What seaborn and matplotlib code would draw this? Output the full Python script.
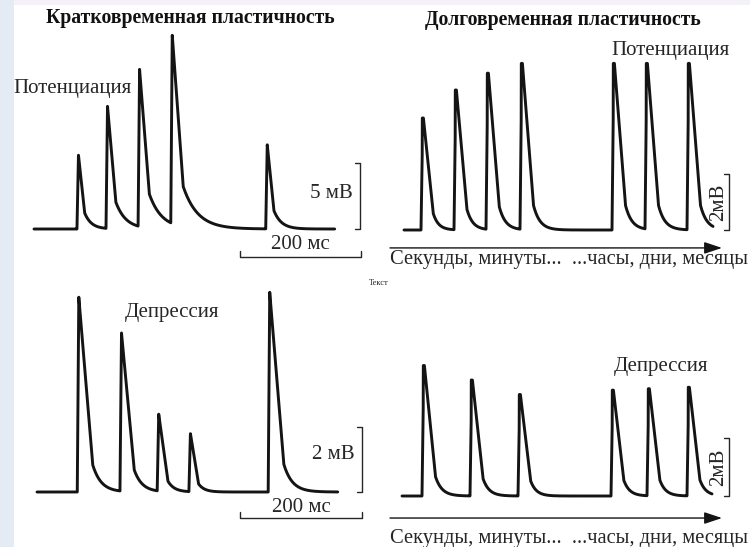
import numpy as np
import matplotlib
matplotlib.use("Agg")
import matplotlib.pyplot as plt
from matplotlib.patches import Rectangle
import seaborn as sns

sns.set_theme(style="white")
plt.rcParams["font.family"] = ["Liberation Serif", "DejaVu Serif"]

# ---- data: onset times and peak amplitudes (mV) of each response ----
# short-term potentiation, time in ms
stp_onsets = [71, 119, 172, 226, 383]
stp_amps = [5.6, 9.3, 12.1, 14.7, 6.4]
stp_end = 497

# short-term depression, time in ms
std_onsets = [66, 136, 197, 249, 379]
std_amps = [6.0, 4.9, 2.4, 1.8, 6.15]
std_end = 493

# long-term potentiation, arbitrary time units
ltp_onsets = [17, 50, 82, 116, 208, 241, 283]
ltp_amps = [4.0, 5.0, 5.6, 5.95, 5.95, 5.95, 5.95]
ltp_end = 309

# long-term depression, arbitrary time units
ltd_onsets = [20, 68, 116, 209, 245, 285]
ltd_amps = [4.5, 4.0, 3.5, 3.65, 3.7, 3.75]
ltd_end = 310

W, H = 750, 547
INK = "#141414"
TXT = "#262626"
FS = 15
AXIS_FS = 14.8

fig = plt.figure(figsize=(W / 100, H / 100), dpi=100)
fig.patch.set_facecolor("white")
fig.patches.append(Rectangle((0, 0), 14 / W, 1, transform=fig.transFigure,
                             facecolor="#e5ebf4", edgecolor="none", zorder=0))
fig.patches.append(Rectangle((14 / W, 1 - 5 / H), 1, 5 / H, transform=fig.transFigure,
                             facecolor="#f4f1f8", edgecolor="none", zorder=0))


def panel_axes(box, origin, scale):
    """Axes whose data units map to a fixed number of pixels."""
    L, T, R, B = box
    ox, oy = origin
    sx, sy = scale
    ax = fig.add_axes([L / W, 1 - B / H, (R - L) / W, (B - T) / H])
    ax.set_xlim((L - ox) / sx, (R - ox) / sx)
    ax.set_ylim((oy - B) / sy, (oy - T) / sy)
    ax.axis("off")
    ax.patch.set_alpha(0)
    return ax


def trace(onsets, amps, end, rise, fall, knee, tau, fall_exp=0.5, tau_exp=1.0,
          cap=0.0):
    step = end / 8000
    t = np.arange(0, end + step, step)
    v = np.zeros_like(t)
    amax = max(amps)
    for t0, a in zip(onsets, amps):
        f = fall * (a / amax) ** fall_exp
        tt = tau * (a / amax) ** tau_exp
        s = t - t0
        seg = np.zeros_like(t)
        up = (s > 0) & (s < rise)
        seg[up] = a * s[up] / rise
        # rounded crest of width 2*cap around the peak
        top = (s >= rise - cap) & (s < rise + cap)
        seg[top] = a
        dn = (s >= rise + cap) & (s < rise + cap + f)
        seg[dn] = a * (1 - (1 - knee) * (s[dn] - rise - cap) / f)
        tl = s >= rise + cap + f
        seg[tl] = a * knee * np.exp(-(s[tl] - rise - cap - f) / tt)
        v = np.maximum(v, seg)
    return t, v


def draw_trace(ax, t, v):
    sns.lineplot(x=t, y=v, ax=ax, color=INK, linewidth=2.1, estimator=None,
                 sort=False, legend=False)
    for ln in ax.lines:
        ln.set_solid_joinstyle("round")
        ln.set_solid_capstyle("round")


def vbracket(ax, x, height, tick):
    ax.plot([x - tick, x, x, x - tick], [height, height, 0, 0],
            color=TXT, lw=1.0, clip_on=False)


def hbracket(ax, x0, x1, y, tick):
    ax.plot([x0, x0, x1, x1], [y + tick, y, y, y + tick],
            color=TXT, lw=1.0, clip_on=False)


# ---- short-term potentiation ----
ax1 = panel_axes((20, 30, 372, 272), (34, 229), (0.605, 13.2))
draw_trace(ax1, *trace(stp_onsets, stp_amps, stp_end, rise=2.5, fall=18,
                       knee=0.22, tau=24, fall_exp=0.6, tau_exp=0.8))
vbracket(ax1, 539, 5, 9)
hbracket(ax1, 340, 540, -2.1, 0.45)
ax1.text(527, 2.7, "5 мВ", ha="right", va="center", fontsize=FS, color=TXT)
ax1.text(440, -1.2, "200 мс", ha="center", va="center", fontsize=FS, color=TXT)

# ---- short-term depression ----
ax3 = panel_axes((20, 278, 372, 530), (37, 492), (0.61, 32.5))
draw_trace(ax3, *trace(std_onsets, std_amps, std_end, rise=2.5, fall=23,
                       knee=0.14, tau=14, fall_exp=0.45, tau_exp=0.3))
vbracket(ax3, 533, 2, 9)
hbracket(ax3, 333, 533, -0.8, 0.18)
ax3.text(521, 1.14, "2 мВ", ha="right", va="center", fontsize=FS, color=TXT)
ax3.text(433, -0.49, "200 мс", ha="center", va="center", fontsize=FS, color=TXT)

# ---- long-term potentiation ----
ax2 = panel_axes((380, 30, 745, 275), (404, 230), (1.0, 28.0))
draw_trace(ax2, *trace(ltp_onsets, ltp_amps, ltp_end, rise=1.8, fall=11,
                       knee=0.15, tau=6.5, fall_exp=0.3, tau_exp=0.5, cap=0.6))
vbracket(ax2, 325, 2, 5)
ax2.text(315, 1.0, "2мВ", ha="center", va="center", rotation=90,
         fontsize=FS, color=TXT)
ax2.annotate("", xy=(318, -0.64), xytext=(-14, -0.64),
             arrowprops=dict(arrowstyle="-|>,head_length=0.9,head_width=0.3",
                             color=INK, lw=1.0, shrinkA=0, shrinkB=0))
ax2.text(-14, -1.07, "Секунды, минуты...  ...часы, дни, месяцы",
         ha="left", va="center", fontsize=AXIS_FS, color=TXT)

# ---- long-term depression ----
ax4 = panel_axes((380, 280, 750, 547), (402, 496), (1.0, 29.0))
draw_trace(ax4, *trace(ltd_onsets, ltd_amps, ltd_end, rise=1.8, fall=11,
                       knee=0.15, tau=6.5, fall_exp=0.3, tau_exp=0.5, cap=0.6))
vbracket(ax4, 327, 2, 5)
ax4.text(317, 1.0, "2мВ", ha="center", va="center", rotation=90,
         fontsize=FS, color=TXT)
ax4.annotate("", xy=(320, -0.76), xytext=(-12, -0.76),
             arrowprops=dict(arrowstyle="-|>,head_length=0.9,head_width=0.3",
                             color=INK, lw=1.0, shrinkA=0, shrinkB=0))
ax4.text(-12, -1.45, "Секунды, минуты...  ...часы, дни, месяцы",
         ha="left", va="center", fontsize=AXIS_FS, color=TXT)


def ftext(x, y, s, **kw):
    fig.text(x / W, 1 - y / H, s, **kw)


ftext(190, 18, "Кратковременная пластичность", ha="center", va="center",
      fontsize=14.2, fontweight="bold", color="#111111")
ftext(563, 20, "Долговременная пластичность", ha="center", va="center",
      fontsize=14.2, fontweight="bold", color="#111111")
ftext(13, 88, "Потенциация", ha="left", va="center", fontsize=FS, color=TXT)
ftext(730, 50, "Потенциация", ha="right", va="center", fontsize=FS, color=TXT)
ftext(125, 312, "Депрессия", ha="left", va="center", fontsize=FS, color=TXT)
ftext(708, 367, "Депрессия", ha="right", va="center", fontsize=FS, color=TXT)
ftext(379, 283, "Текст", ha="center", va="center", fontsize=6, color=TXT)

fig.savefig("out.png", dpi=100, facecolor="white")
